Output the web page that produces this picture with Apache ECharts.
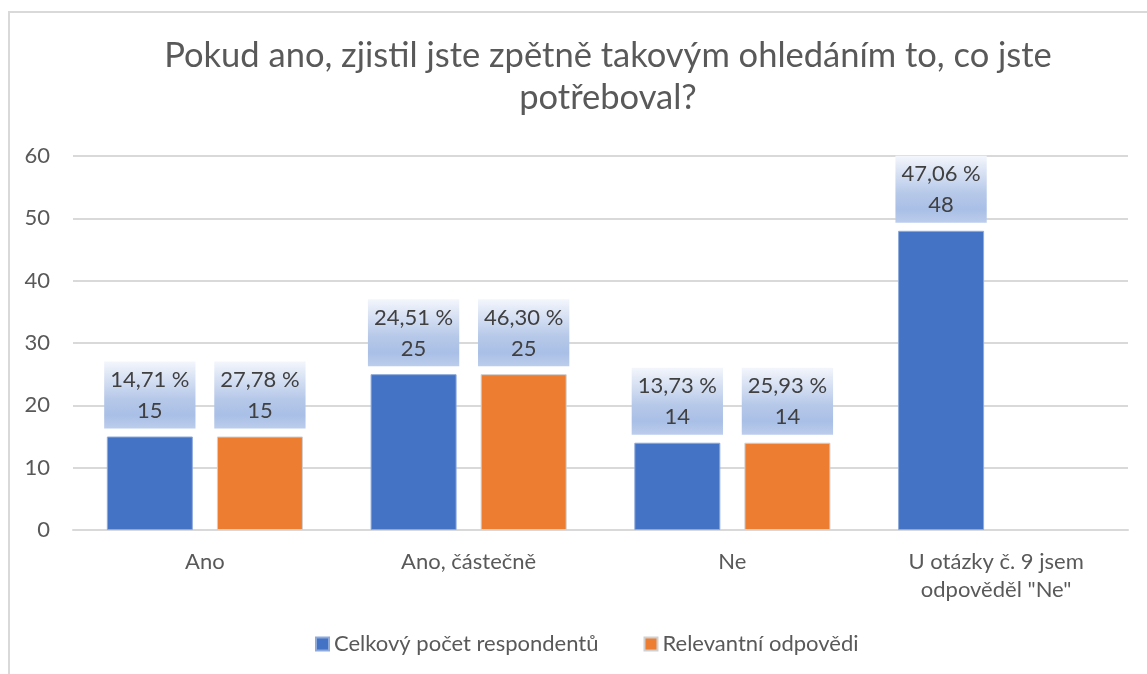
<!DOCTYPE html>
<html>
<head>
<meta charset="utf-8">
<script src="https://cdn.jsdelivr.net/npm/echarts@6/dist/echarts.min.js"></script>
<style>
  html, body { margin: 0; padding: 0; background: #fff; }
  #main { width: 1147px; height: 674px; }
</style>
</head>
<body>
<div id="main"></div>
<script>
// data
var categories = ['Ano', 'Ano, částečně', 'Ne', 'U otázky č. 9 jsem\nodpověděl "Ne"'];
var celkovy = [15, 25, 14, 48];
var celkovyPct = ['14,71 %', '24,51 %', '13,73 %', '47,06 %'];
var relevantni = [15, 25, 14, null];
var relevantniPct = ['27,78 %', '46,30 %', '25,93 %', ''];
var yTicks = [0, 10, 20, 30, 40, 50, 60];

var font = 'Lato, "Noto Sans", sans-serif';

var labelBg = new echarts.graphic.LinearGradient(0, 0, 0, 1, [
    { offset: 0, color: '#f3f6fc' },
    { offset: 0.55, color: '#b7c9e9' },
    { offset: 0.8, color: '#a9bfe6' },
    { offset: 1, color: '#bccdec' }
]);

function makeLabel(pcts) {
    return {
        show: true,
        position: 'top',
        distance: 8,
        fontFamily: font,
        fontSize: 22,
        color: '#404040',
        lineHeight: 31,
        padding: [3, 6, 2, 6],
        backgroundColor: labelBg,
        formatter: function (p) {
            return pcts[p.dataIndex] + '\n' + p.value;
        }
    };
}

var myChart = echarts.init(document.getElementById('main'));

var option = {
    backgroundColor: '#fff',
    animation: false,
    title: {
        text: 'Pokud ano, zjistil jste zpětně takovým ohledáním to, co jste\npotřeboval?',
        left: 603,
        top: 30,
        textAlign: 'center',
        textStyle: {
            fontFamily: font,
            fontSize: 34.5,
            fontWeight: 'normal',
            color: '#595959',
            lineHeight: 42
        }
    },
    graphic: [{
        type: 'rect',
        shape: { x: 9, y: 12, width: 1200, height: 700 },
        style: { fill: 'none', stroke: '#d9d9d9', lineWidth: 2 },
        silent: true
    }],
    legend: {
        top: 628,
        left: 310,
        itemWidth: 13,
        itemHeight: 13,
        itemGap: 45,
        icon: 'rect',
        textStyle: { fontFamily: font, fontSize: 22, color: '#595959' },
        data: ['Celkový počet respondentů', 'Relevantní odpovědi']
    },
    grid: { left: 73, right: 19, top: 156, bottom: 144 },
    xAxis: {
        type: 'category',
        data: categories,
        axisLine: { lineStyle: { color: '#d9d9d9', width: 2 } },
        axisTick: { show: false },
        axisLabel: {
            fontFamily: font,
            fontSize: 22,
            color: '#595959',
            lineHeight: 28,
            margin: 18
        }
    },
    yAxis: {
        type: 'value',
        min: yTicks[0],
        max: yTicks[yTicks.length - 1],
        interval: 10,
        axisLine: { show: false },
        axisTick: { show: false },
        splitLine: { lineStyle: { color: '#d9d9d9', width: 2 } },
        axisLabel: {
            fontFamily: font,
            fontSize: 22,
            color: '#595959',
            margin: 23
        }
    },
    series: [{
        name: 'Celkový počet respondentů',
        type: 'bar',
        data: celkovy,
        barWidth: 86,
        barGap: '28%',
        itemStyle: { color: '#4472c4', borderColor: '#8eaadb', borderWidth: 1 },
        label: makeLabel(celkovyPct)
    }, {
        name: 'Relevantní odpovědi',
        type: 'bar',
        data: relevantni,
        barWidth: 86,
        itemStyle: { color: '#ed7d31', borderColor: '#d0d0d0', borderWidth: 1 },
        label: makeLabel(relevantniPct)
    }]
};

myChart.setOption(option);
</script>
</body>
</html>
